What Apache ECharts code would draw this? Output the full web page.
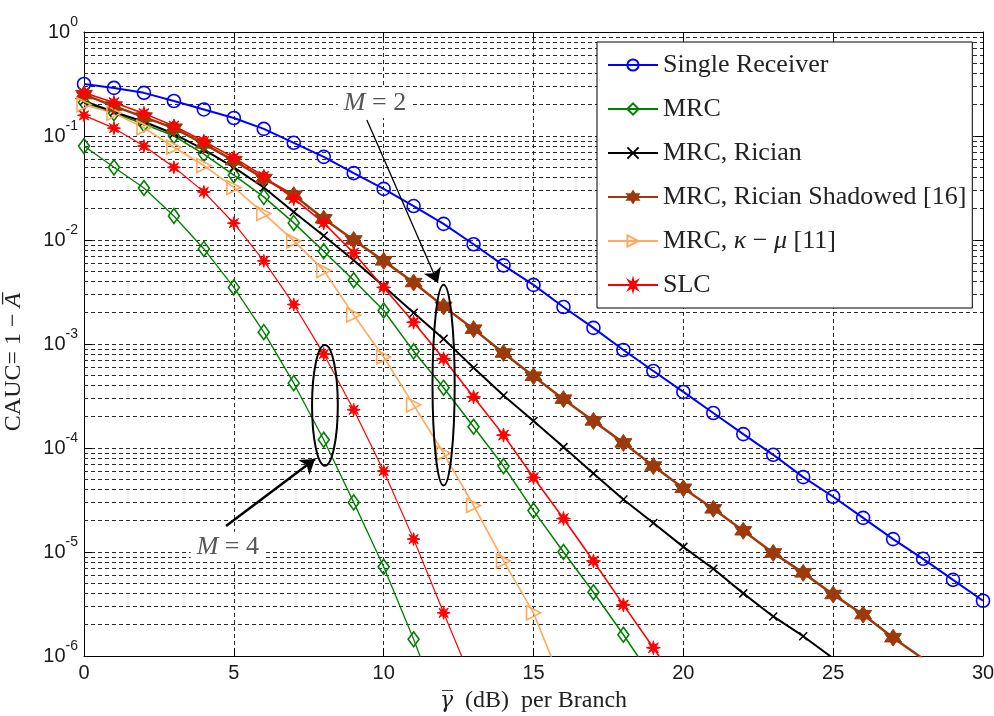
<!DOCTYPE html>
<html>
<head>
<meta charset="utf-8">
<script src="https://cdn.jsdelivr.net/npm/echarts@6/dist/echarts.min.js"></script>
<style>
  html, body { margin: 0; padding: 0; background: #fff; }
  #c { width: 994px; height: 716px; }
</style>
</head>
<body>
<div id="c"></div>
<script>
// ---- data ----
const snr = [0,1,2,3,4,5,6,7,8,9,10,11,12,13,14,15,16,17,18,19,20,21,22,23,24,25,26,27,28,29,30];
const xTicks = [0,5,10,15,20,25,30];
const yDecades = [1e-6,1e-5,1e-4,1e-3,1e-2,1e-1,1];
const minorMultipliers = [2,3,4,5,6,7,8,9];

const singleReceiver = [0.316,0.29,0.26,0.217,0.18,0.149,0.117,0.086,0.063,0.044,0.031,0.0212,0.0143,0.0091,0.0057,0.0037,0.00227,0.00143,0.000875,0.00055,0.000346,0.000217,0.000136,8.6e-5,5.25e-5,3.4e-5,2.13e-5,1.33e-5,8.6e-6,5.4e-6,3.4e-6];
const mrcM4 = [0.080,0.050,0.0316,0.017,0.0082,0.0035,0.0013,0.00042,0.00012,3.0e-5,7.2e-6,1.45e-6,2.5e-7];
const slcM4 = [0.158,0.119,0.080,0.050,0.029,0.0145,0.0063,0.0024,0.00080,0.000233,6.0e-5,1.33e-5,2.6e-6,5.3e-7];
const mrcM2 = [0.21,0.166,0.13,0.10,0.067,0.042,0.026,0.0146,0.0078,0.0041,0.0021,0.00085,0.00038,0.00016,6.7e-5,2.5e-5,1.0e-5,4.1e-6,1.6e-6,6e-7];
const ricianM2 = [0.217,0.17,0.137,0.105,0.074,0.050,0.032,0.0186,0.011,0.0064,0.0036,0.0020,0.00112,0.00059,0.00032,0.000182,1.02e-4,5.7e-5,3.2e-5,1.9e-5,1.12e-5,6.9e-6,4.0e-6,2.4e-6,1.55e-6,9.5e-7];
const shadowedM2 = [0.25,0.194,0.152,0.119,0.084,0.058,0.039,0.027,0.016,0.010,0.0063,0.0039,0.0023,0.00139,0.00082,0.00049,2.95e-4,1.82e-4,1.12e-4,6.7e-5,4.1e-5,2.6e-5,1.6e-5,9.8e-6,6.3e-6,3.9e-6,2.5e-6,1.5e-6,9.4e-7];
const kappaMuM2 = [0.2,0.166,0.12,0.078,0.052,0.032,0.018,0.0098,0.0051,0.0019,0.00075,0.00026,8.9e-5,2.8e-5,8.2e-6,2.6e-6,5e-7];
const slcM2 = [0.26,0.21,0.165,0.125,0.089,0.062,0.041,0.025,0.0146,0.0075,0.0035,0.00162,0.00072,0.00031,0.000133,5.2e-5,2.1e-5,8.2e-6,3.1e-6,1.2e-6,4.5e-7];

const legendNames = ['Single Receiver','MRC','MRC, Rician','MRC, Rician Shadowed [16]','MRC, \u03ba \u2212 \u03bc [11]','SLC'];

// annotation anchors in data coordinates
const arrowM2 = [[9.44, Math.pow(10,-0.846)], [11.81, Math.pow(10,-2.413)]];
const arrowM4 = [[4.74, Math.pow(10,-4.75)], [7.71, Math.pow(10,-4.106)]];
const ellipseM2 = {x: 12, halfW: 0.37, top: Math.pow(10,-2.43), bottom: Math.pow(10,-4.36)};
const ellipseM4 = {x: 8.04, halfW: 0.43, top: Math.pow(10,-3.01), bottom: Math.pow(10,-4.17)};
const labelM2 = [9.71, Math.pow(10,-0.683)];
const labelM4 = [4.8, Math.pow(10,-4.95)];

// ---- styles ----
const C = {blue:'#0000ff', green:'#008000', black:'#000000', brown:'#9c3a0c', orange:'#ffa95c', red:'#ff0000'};
const HEXAGRAM = 'path://M10,0L12.89,5L18.66,5L15.77,10L18.66,15L12.89,15L10,20L7.11,15L1.34,15L4.23,10L1.34,5L7.11,5Z';
const STAR8 = 'path://M10,0L11.53,6.3L17.07,2.93L13.7,8.47L20,10L13.7,11.53L17.07,17.07L11.53,13.7L10,20L8.47,13.7L2.93,17.07L6.3,11.53L0,10L6.3,8.47L2.93,2.93L8.47,6.3Z';
const CROSS = 'path://M0,0L10,10M10,0L0,10';
const SERIF = 'Liberation Serif';
const SANS = 'Liberation Sans';

function pts(ys) { return ys.map((y, i) => [snr[i], y]); }
function mk(name, ys, color, lw, symbol, size, hollow, extra) {
  return Object.assign({
    type: 'line', name: name, data: pts(ys),
    symbol: symbol, symbolSize: size, showSymbol: true, showAllSymbol: true,
    clip: true, z: 2, silent: true,
    lineStyle: {color: color, width: lw},
    itemStyle: hollow ? {color: 'rgba(255,255,255,0)', borderColor: color, borderWidth: 1.6}
                      : {color: color, borderColor: color, borderWidth: 1},
    emphasis: {disabled: true}
  }, extra || {});
}

const minorVals = [];
for (let d = 0; d < yDecades.length - 1; d++) {
  for (const m of minorMultipliers) minorVals.push(yDecades[d] * m);
}

const dash = {color: '#2a2a2a', width: 1, type: [4, 3], opacity: 1};

const series = [
  {type: 'lines', name: '_grid', coordinateSystem: 'cartesian2d', polyline: false, silent: true, z: 1,
   symbol: 'none', lineStyle: dash, emphasis: {disabled: true}, animation: false,
   data: minorVals.map(v => ({coords: [[xTicks[0], v], [xTicks[xTicks.length - 1], v]]}))},
  mk('Single Receiver', singleReceiver, C.blue, 2, 'circle', 13, true),
  mk('MRC', mrcM2, C.green, 1.5, 'diamond', [11, 15], true),
  mk('MRC', mrcM4, C.green, 1.3, 'diamond', [11, 15], true),
  mk('MRC, Rician', ricianM2, C.black, 2, CROSS, 8, false, {itemStyle: {color: C.black, borderColor: C.black, borderWidth: 1.5}}),
  mk('MRC, Rician Shadowed [16]', shadowedM2, C.brown, 2.5, HEXAGRAM, 17, false),
  mk(legendNames[4], kappaMuM2, C.orange, 1.6, 'triangle', 14, true, {symbolRotate: -90}),
  mk('SLC', slcM2, C.red, 1.6, STAR8, 14, false),
  mk('SLC', slcM4, C.red, 1.2, STAR8, 13, false),
  {type: 'line', name: '_annot', data: [], silent: true,
   markLine: {silent: true, z: 6, symbol: ['none', 'arrow'], symbolSize: 14, animation: false,
              label: {show: false}, emphasis: {disabled: true},
              lineStyle: {color: '#000', width: 1.3, type: 'solid'},
              data: [
                [{coord: arrowM2[0]}, {coord: arrowM2[1]}],
                [{coord: arrowM4[0], lineStyle: {width: 2.5}}, {coord: arrowM4[1]}]
              ]}}
];

const chart = echarts.init(document.getElementById('c'), null, {renderer: 'canvas'});
chart.setOption({
  animation: false,
  backgroundColor: '#fff',
  grid: {left: 84, right: 11, top: 32, bottom: 60, containLabel: false, outerBoundsMode: 'none'},
  legend: {
    orient: 'vertical', left: 597, top: 42,
    data: legendNames, selectedMode: false,
    itemWidth: 50, itemHeight: 14, itemGap: 18,
    backgroundColor: '#fff', borderColor: '#000', borderWidth: 1,
    padding: [10, 6, 10, 10],
    textStyle: {fontFamily: SERIF, fontSize: 26, color: '#222',
      rich: {t: {fontFamily: SERIF, fontSize: 26, color: '#222'},
             i: {fontFamily: SERIF, fontSize: 26, color: '#222', fontStyle: 'italic'}}},
    formatter: function (name) {
      if (name === legendNames[4]) return '{t|MRC, }{i|\u03ba}{t| \u2212 }{i|\u03bc}{t| [11]}';
      return '{t|' + name + '}';
    }
  },
  xAxis: [{
    type: 'value', min: 0, max: 30, interval: 5, position: 'bottom',
    axisLine: {show: true, onZero: false, lineStyle: {color: '#000', width: 1}},
    axisTick: {show: true, inside: true, length: 8, lineStyle: {color: '#000'}},
    axisLabel: {fontFamily: SANS, fontSize: 20, color: '#1a1a1a', margin: 7},
    splitLine: {show: true, lineStyle: dash},
    name: '{g|\u03b3\u0305}{n|  (dB)  per Branch}', nameLocation: 'middle', nameGap: 33,
    nameTextStyle: {fontFamily: SERIF, fontSize: 24, color: '#222',
      rich: {g: {fontFamily: 'DejaVu Serif', fontSize: 22, color: '#222', fontStyle: 'italic'},
             n: {fontFamily: SERIF, fontSize: 24, color: '#222'}}}
  }, {
    type: 'value', min: 0, max: 30, interval: 5, position: 'top',
    axisLine: {show: true, onZero: false, lineStyle: {color: '#000', width: 1}},
    axisTick: {show: true, inside: true, length: 8, lineStyle: {color: '#000'}},
    axisLabel: {show: false}, splitLine: {show: false}
  }],
  yAxis: [{
    type: 'log', logBase: 10, min: 1e-6, max: 1, interval: 1, position: 'left',
    axisLine: {show: true, onZero: false, lineStyle: {color: '#000', width: 1}},
    axisTick: {show: true, inside: true, length: 8, lineStyle: {color: '#000'}},
    axisLabel: {
      margin: 6,
      formatter: function (v) { return '{b|10}{s|' + Math.round(Math.log10(v)) + '}'; },
      rich: {b: {fontFamily: SANS, fontSize: 20, color: '#1a1a1a'},
             s: {fontFamily: SANS, fontSize: 14, color: '#1a1a1a', padding: [0, 0, 20, 0]}}
    },
    splitLine: {show: true, lineStyle: dash},
    name: '{n|CAUC= 1 \u2212 }{a|A\u0305}', nameLocation: 'middle', nameGap: 58,
    nameTextStyle: {fontFamily: SERIF, fontSize: 24, color: '#222', padding: [0, 36, 0, 0],
      rich: {n: {fontFamily: SERIF, fontSize: 24, color: '#222'},
             a: {fontFamily: SERIF, fontSize: 24, color: '#222', fontStyle: 'italic'}}}
  }, {
    type: 'log', logBase: 10, min: 1e-6, max: 1, interval: 1, position: 'right',
    axisLine: {show: true, onZero: false, lineStyle: {color: '#000', width: 1}},
    axisTick: {show: true, inside: true, length: 8, lineStyle: {color: '#000'}},
    axisLabel: {show: false}, splitLine: {show: false}
  }],
  series: series
});

// annotations placed through the chart's own coordinate conversion
function px(pt) { return chart.convertToPixel({xAxisIndex: 0, yAxisIndex: 0}, pt); }
function ell(e) {
  const t = px([e.x, e.top]), b = px([e.x, e.bottom]), r = px([e.x + e.halfW, e.top]);
  return {type: 'ellipse', z: 6, silent: true,
          shape: {cx: t[0], cy: (t[1] + b[1]) / 2, rx: r[0] - t[0], ry: (b[1] - t[1]) / 2},
          style: {fill: 'none', stroke: '#000', lineWidth: 2}};
}
function lbl(pt, txt) {
  const p = px(pt);
  return {type: 'text', z: 1, silent: true, x: p[0], y: p[1],
          style: {text: '{m|M} = ' + txt, align: 'center', verticalAlign: 'middle',
                  fill: '#555', font: '26px "Liberation Serif"', backgroundColor: '#fff', padding: [2, 6],
                  rich: {m: {fontStyle: 'italic', fontFamily: SERIF, fontSize: 26, fill: '#555', color: '#555'}}}};
}
chart.setOption({graphic: [ell(ellipseM2), ell(ellipseM4), lbl(labelM2, '2'), lbl(labelM4, '4')]});
</script>
</body>
</html>
